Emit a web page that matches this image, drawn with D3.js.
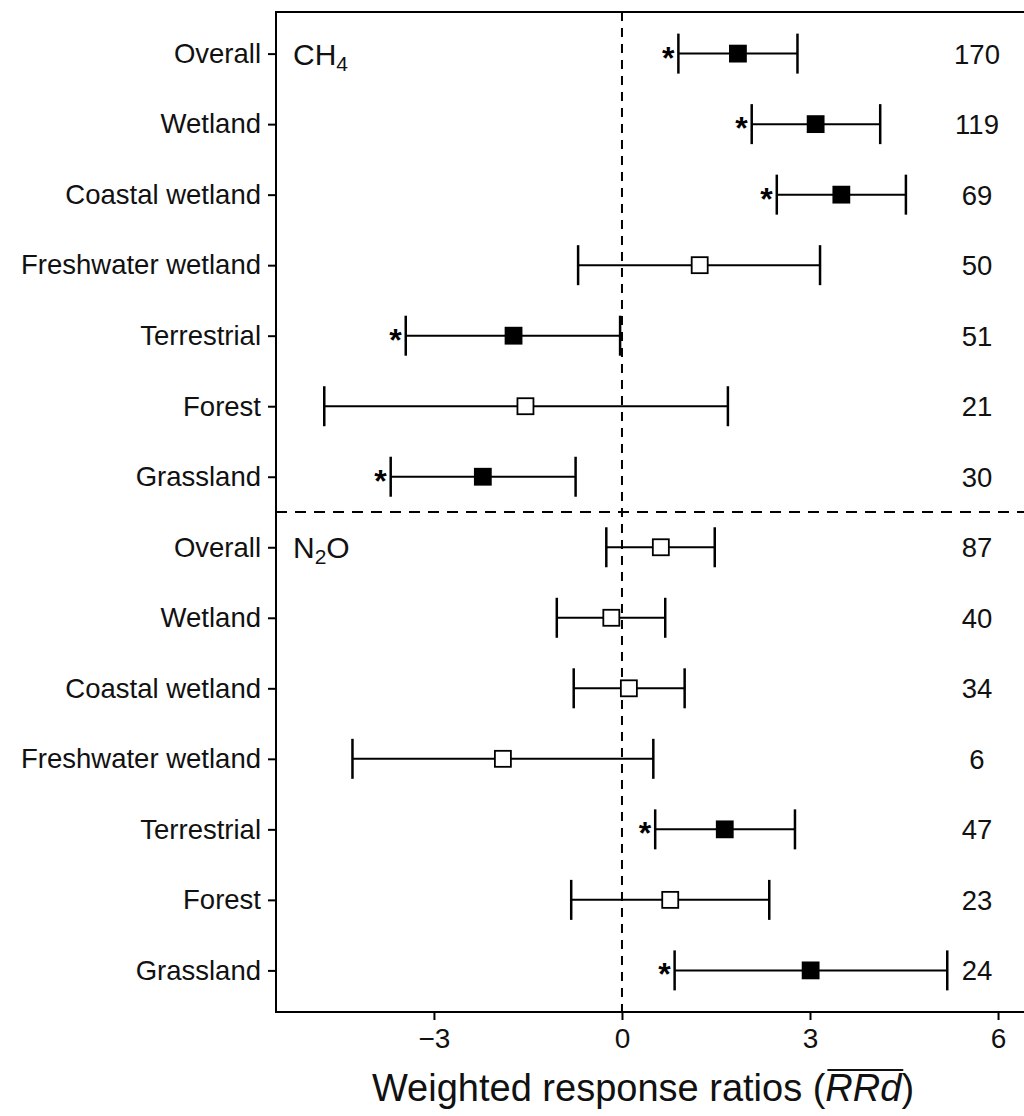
<!DOCTYPE html>
<html>
<head>
<meta charset="utf-8">
<script src="https://cdn.jsdelivr.net/npm/d3@7"></script>
<style>
  body { margin: 0; background: #fff; }
  svg { font-family: "Liberation Sans", Arial, sans-serif; }
</style>
</head>
<body>
<svg width="1024" height="1116"></svg>
<script>
// data
var categories = ["Overall", "Wetland", "Coastal wetland", "Freshwater wetland", "Terrestrial", "Forest", "Grassland"];
var gases = ["CH4", "N2O"];

var ch4Mean  = [1.85, 3.09, 3.50, 1.24, -1.73, -1.54, -2.22];
var ch4Lower = [0.90, 2.07, 2.47, -0.70, -3.45, -4.75, -3.69];
var ch4Upper = [2.80, 4.12, 4.53, 3.16, -0.03, 1.69, -0.74];
var ch4N     = [170, 119, 69, 50, 51, 21, 30];
var ch4Sig   = [true, true, true, false, true, false, true];

var n2oMean  = [0.62, -0.17, 0.11, -1.90, 1.64, 0.77, 3.01];
var n2oLower = [-0.25, -1.04, -0.77, -4.30, 0.53, -0.81, 0.84];
var n2oUpper = [1.48, 0.69, 1.00, 0.50, 2.76, 2.35, 5.19];
var n2oN     = [87, 40, 34, 6, 47, 23, 24];
var n2oSig   = [false, false, false, false, true, false, true];

var xTicks = [-3, 0, 3, 6];

// build rows
var rows = [];
categories.forEach(function(c, i){
  rows.push({id: "CH4-" + i, label: c, mean: ch4Mean[i], lo: ch4Lower[i], hi: ch4Upper[i], n: ch4N[i], sig: ch4Sig[i]});
});
categories.forEach(function(c, i){
  rows.push({id: "N2O-" + i, label: c, mean: n2oMean[i], lo: n2oLower[i], hi: n2oUpper[i], n: n2oN[i], sig: n2oSig[i]});
});

var plotLeft = 276, plotTop = 12, plotBottom = 1012, plotRight = 1030;

var svg = d3.select("svg");

var xScale = d3.scaleLinear()
    .domain([-5.52, 6.51])
    .range([plotLeft, plotRight]);

var yScale = d3.scalePoint()
    .domain(rows.map(function(d){ return d.id; }))
    .range([plotTop, plotBottom])
    .padding(0.59);

// frame (right side runs past the edge)
svg.append("path")
    .attr("d", "M" + plotRight + "," + plotTop + "H" + plotLeft + "V" + plotBottom + "H" + plotRight)
    .attr("fill", "none")
    .attr("stroke", "#000")
    .attr("stroke-width", 2);

// zero line
svg.append("line")
    .attr("x1", xScale(0)).attr("x2", xScale(0))
    .attr("y1", plotTop).attr("y2", plotBottom)
    .attr("stroke", "#000")
    .attr("stroke-width", 2)
    .attr("stroke-dasharray", "9,7");

// separator between the two gases
var sepY = (yScale("CH4-6") + yScale("N2O-0")) / 2;
svg.append("line")
    .attr("x1", plotLeft).attr("x2", plotRight)
    .attr("y1", sepY).attr("y2", sepY)
    .attr("stroke", "#000")
    .attr("stroke-width", 2)
    .attr("stroke-dasharray", "11,8");

// x axis
var x_axis = d3.axisBottom(xScale)
    .tickValues(xTicks)
    .tickSize(8)
    .tickPadding(8);

var gx = svg.append("g")
    .attr("transform", "translate(0," + plotBottom + ")")
    .call(x_axis);
gx.select(".domain").remove();
gx.selectAll("line").attr("stroke", "#000").attr("stroke-width", 2);
gx.selectAll("text").attr("font-size", 28).attr("fill", "#111").attr("font-family", "Liberation Sans, Arial, sans-serif");

// y axis
var y_axis = d3.axisLeft(yScale)
    .tickFormat(function(id){ return rows.find(function(r){ return r.id === id; }).label; })
    .tickSize(8)
    .tickPadding(7);

var gy = svg.append("g")
    .attr("transform", "translate(" + plotLeft + ",0)")
    .call(y_axis);
gy.select(".domain").remove();
gy.selectAll("line").attr("stroke", "#000").attr("stroke-width", 2);
gy.selectAll("text").attr("font-size", 27.5).attr("fill", "#111").attr("font-family", "Liberation Sans, Arial, sans-serif");

// error bars
var capH = 20;
var g = svg.selectAll("g.row")
    .data(rows)
    .enter()
    .append("g")
    .attr("class", "row")
    .attr("transform", function(d){ return "translate(0," + yScale(d.id) + ")"; });

g.append("line")
    .attr("x1", function(d){ return xScale(d.lo); })
    .attr("x2", function(d){ return xScale(d.hi); })
    .attr("stroke", "#000").attr("stroke-width", 2);

g.append("line")
    .attr("x1", function(d){ return xScale(d.lo); })
    .attr("x2", function(d){ return xScale(d.lo); })
    .attr("y1", -capH).attr("y2", capH)
    .attr("stroke", "#000").attr("stroke-width", 2.5);

g.append("line")
    .attr("x1", function(d){ return xScale(d.hi); })
    .attr("x2", function(d){ return xScale(d.hi); })
    .attr("y1", -capH).attr("y2", capH)
    .attr("stroke", "#000").attr("stroke-width", 2.5);

var sq = 16;
g.append("rect")
    .attr("x", function(d){ return xScale(d.mean) - sq / 2; })
    .attr("y", -sq / 2)
    .attr("width", sq).attr("height", sq)
    .attr("fill", function(d){ return d.sig ? "#000" : "#fff"; })
    .attr("stroke", "#000")
    .attr("stroke-width", 1.8);

// significance stars
g.filter(function(d){ return d.sig; })
    .append("text")
    .attr("x", function(d){ return xScale(d.lo) - 4; })
    .attr("y", 15)
    .attr("text-anchor", "end")
    .attr("font-size", 32)
    .attr("font-weight", "bold")
    .attr("fill", "#000")
    .text("*");

// sample sizes
g.append("text")
    .attr("x", 977)
    .attr("y", 10)
    .attr("text-anchor", "middle")
    .attr("font-size", 27.5)
    .attr("fill", "#111")
    .text(function(d){ return d.n; });

// gas labels
var gasText = svg.selectAll("text.gas")
    .data(gases)
    .enter()
    .append("text")
    .attr("class", "gas")
    .attr("x", 293)
    .attr("y", function(d){ return yScale(d + "-0") + 11; })
    .attr("font-size", 30)
    .attr("fill", "#111");
gasText.each(function(d){
  var t = d3.select(this);
  t.append("tspan").text(d.charAt(0) === "C" ? "CH" : "N");
  t.append("tspan").attr("font-size", 21).attr("dy", 6).text(d.charAt(0) === "C" ? "4" : "2");
  if (d.charAt(0) === "N") t.append("tspan").attr("dy", -6).text("O");
});

// axis title
var title = svg.append("text")
    .attr("x", 643)
    .attr("y", 1101)
    .attr("text-anchor", "middle")
    .attr("font-size", 38)
    .attr("fill", "#111");
title.append("tspan").text("Weighted response ratios (");
title.append("tspan").attr("class", "rrd").attr("font-style", "italic").text("RRd");
title.append("tspan").text(")");

var bb = title.select(".rrd").node().getBBox();
svg.append("line")
    .attr("x1", bb.x + 2).attr("x2", bb.x + bb.width)
    .attr("y1", bb.y + 3).attr("y2", bb.y + 3)
    .attr("stroke", "#111").attr("stroke-width", 2);
</script>
</body>
</html>
